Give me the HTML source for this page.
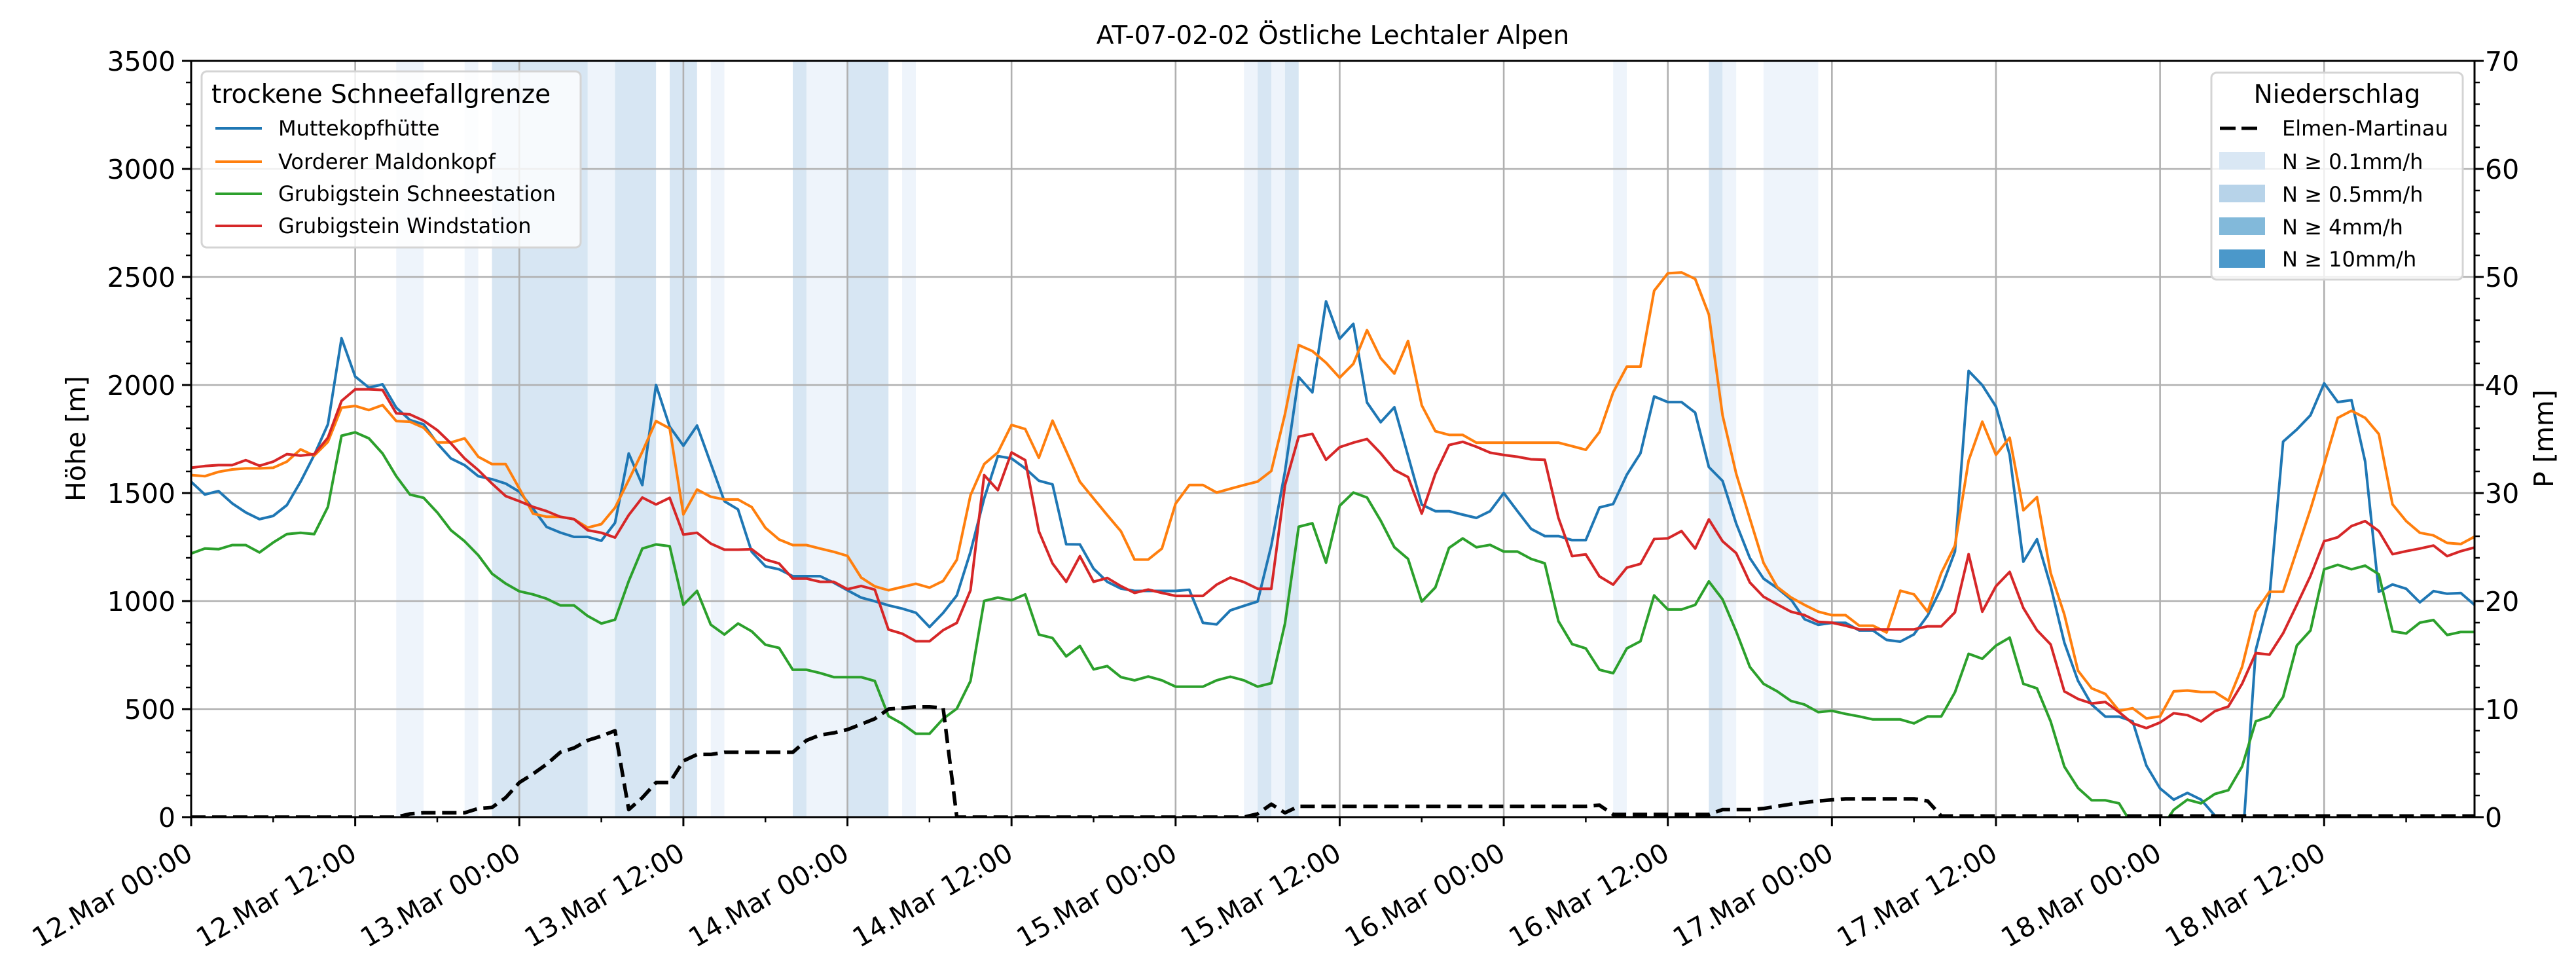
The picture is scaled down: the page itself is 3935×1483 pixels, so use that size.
<!DOCTYPE html>
<html><head><meta charset="utf-8"><style>
html,body{margin:0;padding:0;background:#fff;}
svg{display:block;font-family:"DejaVu Sans","Liberation Sans",sans-serif;}
</style></head><body>
<svg id="chart" xmlns="http://www.w3.org/2000/svg" width="3935" height="1483" viewBox="0 0 3935 1483">
<defs><clipPath id="plotclip"><rect x="292" y="93" width="3488" height="1155"/></clipPath></defs>
<rect x="0" y="0" width="3935" height="1483" fill="#fff"/>
<g id="bands" clip-path="url(#plotclip)"></g>
<g id="grid"></g>
<g id="series" clip-path="url(#plotclip)"></g>
<g id="axes"></g>
<text x="2036" y="67" text-anchor="middle" font-size="39">AT-07-02-02 Östliche Lechtaler Alpen</text>
<text transform="translate(130,670) rotate(-90)" text-anchor="middle" font-size="41">Höhe [m]</text>
<text transform="translate(3900,670) rotate(-90)" text-anchor="middle" font-size="41">P [mm]</text>
<g id="legend1">
<rect x="308" y="109" width="579" height="269" rx="8" fill="#fff" fill-opacity="0.8" stroke="#d4d4d4" stroke-width="3"/>
<text x="323" y="157" font-size="39">trockene Schneefallgrenze</text>
<line x1="329" y1="196" x2="400" y2="196" stroke="#1f77b4" stroke-width="4"/>
<text x="425" y="207" font-size="32">Muttekopfhütte</text>
<line x1="329" y1="247" x2="400" y2="247" stroke="#ff7f0e" stroke-width="4"/>
<text x="425" y="258" font-size="32">Vorderer Maldonkopf</text>
<line x1="329" y1="296" x2="400" y2="296" stroke="#2ca02c" stroke-width="4"/>
<text x="425" y="307" font-size="32">Grubigstein Schneestation</text>
<line x1="329" y1="345" x2="400" y2="345" stroke="#d62728" stroke-width="4"/>
<text x="425" y="356" font-size="32">Grubigstein Windstation</text>
</g>
<g id="legend2">
<rect x="3378" y="111" width="384" height="316" rx="8" fill="#fff" fill-opacity="0.8" stroke="#d4d4d4" stroke-width="3"/>
<text x="3570" y="157" text-anchor="middle" font-size="39">Niederschlag</text>
<line x1="3391" y1="196" x2="3449" y2="196" stroke="#000" stroke-width="5" stroke-dasharray="24,9"/>
<text x="3486" y="207" font-size="32">Elmen-Martinau</text>
<rect x="3390" y="232" width="70" height="27" fill="#d9e7f4"/>
<text x="3486" y="258" font-size="32">N ≥ 0.1mm/h</text>
<rect x="3390" y="282" width="70" height="27" fill="#b7d3e9"/>
<text x="3486" y="308" font-size="32">N ≥ 0.5mm/h</text>
<rect x="3390" y="332" width="70" height="27" fill="#82b9da"/>
<text x="3486" y="358" font-size="32">N ≥ 4mm/h</text>
<rect x="3390" y="381" width="70" height="28" fill="#4b98ca"/>
<text x="3486" y="407" font-size="32">N ≥ 10mm/h</text>
</g>
</svg>
<script>
const tickLabels = ["12.Mar 00:00","12.Mar 12:00","13.Mar 00:00","13.Mar 12:00","14.Mar 00:00","14.Mar 12:00","15.Mar 00:00","15.Mar 12:00","16.Mar 00:00","16.Mar 12:00","17.Mar 00:00","17.Mar 12:00","18.Mar 00:00","18.Mar 12:00"];
const yTicks = [0,500,1000,1500,2000,2500,3000,3500];
const y2Ticks = [0,10,20,30,40,50,60,70];
const muttekopf = [1552,1493,1509,1452,1410,1379,1394,1444,1552,1676,1818,2216,2039,1988,2003,1895,1838,1818,1730,1660,1629,1578,1564,1544,1506,1428,1343,1317,1297,1297,1279,1362,1683,1537,2000,1807,1719,1812,1637,1462,1424,1228,1161,1147,1115,1115,1115,1085,1050,1016,999,980,965,946,880,945,1026,1228,1475,1671,1660,1614,1557,1540,1263,1262,1150,1089,1058,1047,1047,1047,1047,1052,899,892,957,978,998,1257,1600,2037,1966,2387,2214,2283,1919,1828,1897,1672,1446,1416,1416,1400,1385,1416,1500,1416,1334,1301,1301,1282,1282,1433,1449,1585,1684,1947,1921,1921,1872,1620,1556,1359,1199,1104,1060,1008,916,890,899,899,864,864,820,812,846,933,1060,1229,2065,1999,1900,1677,1182,1286,1069,808,631,521,465,465,443,239,133,81,112,81,8,-150,-150,773,1017,1738,1794,1860,2008,1921,1930,1646,1043,1077,1057,994,1046,1034,1037,982];
const maldonkopf = [1583,1578,1598,1609,1614,1614,1617,1645,1702,1673,1737,1895,1903,1884,1907,1833,1830,1802,1734,1734,1753,1668,1634,1634,1521,1405,1390,1390,1379,1340,1356,1432,1560,1691,1833,1799,1401,1516,1483,1470,1470,1435,1339,1285,1259,1259,1243,1228,1209,1109,1068,1050,1065,1080,1062,1093,1191,1490,1634,1688,1815,1796,1663,1835,1694,1552,1475,1398,1323,1192,1192,1243,1451,1537,1537,1502,1520,1537,1553,1602,1865,2185,2157,2103,2034,2098,2254,2124,2053,2204,1906,1786,1769,1769,1733,1733,1733,1733,1733,1733,1733,1717,1700,1782,1966,2085,2085,2436,2517,2521,2491,2326,1860,1590,1382,1177,1065,1017,982,951,935,935,886,886,855,1048,1031,951,1130,1257,1651,1830,1677,1756,1420,1481,1130,938,678,596,570,492,504,457,466,582,586,579,579,539,695,951,1043,1043,1234,1425,1634,1848,1881,1848,1773,1448,1370,1316,1304,1269,1264,1298];
const schneestation = [1220,1243,1240,1259,1259,1225,1271,1310,1316,1310,1436,1765,1781,1753,1683,1578,1493,1478,1410,1328,1277,1212,1127,1081,1045,1031,1011,980,980,931,896,914,1092,1243,1262,1254,983,1047,891,845,896,860,798,783,682,682,667,648,648,648,630,468,432,386,386,455,502,630,1001,1016,1004,1031,845,829,744,792,684,699,648,633,651,633,604,604,604,633,650,633,604,620,896,1344,1360,1178,1441,1502,1479,1372,1249,1195,998,1063,1246,1290,1249,1260,1229,1229,1195,1175,907,801,781,682,666,781,814,1026,961,961,982,1091,1008,860,695,617,582,538,521,486,492,478,466,452,452,452,434,466,466,578,756,733,794,831,617,596,443,234,135,78,78,64,-40,-80,-60,34,81,64,107,125,234,443,466,556,794,864,1147,1168,1147,1164,1124,860,850,900,912,843,857,857];
const windstation = [1617,1625,1629,1629,1652,1626,1645,1680,1673,1680,1756,1926,1980,1980,1977,1869,1864,1835,1791,1730,1660,1606,1544,1486,1462,1436,1416,1390,1379,1328,1316,1294,1398,1479,1447,1478,1308,1316,1266,1238,1238,1240,1192,1174,1104,1104,1089,1089,1055,1070,1053,868,849,814,814,865,899,1050,1583,1513,1688,1652,1323,1174,1089,1208,1089,1107,1069,1038,1053,1038,1024,1024,1024,1076,1109,1088,1057,1057,1536,1761,1774,1654,1712,1733,1750,1684,1607,1574,1405,1589,1722,1737,1714,1687,1676,1668,1656,1654,1385,1208,1216,1114,1076,1155,1172,1287,1290,1324,1243,1378,1277,1222,1086,1020,985,951,935,904,900,886,869,869,869,869,869,883,883,948,1217,951,1069,1135,968,865,799,582,547,526,533,486,434,412,438,481,472,443,490,512,617,759,752,851,982,1116,1277,1295,1347,1370,1324,1217,1231,1243,1257,1208,1231,1248];
const precip = [0,0,0,0,0,0,0,0,0,0,0,0,0,0,0,0,0.3,0.4,0.4,0.4,0.4,0.8,0.9,1.8,3.2,4.0,4.9,6.0,6.4,7.1,7.5,8.0,0.7,1.8,3.2,3.2,5.2,5.8,5.8,6.0,6.0,6.0,6.0,6.0,6.0,7.1,7.6,7.8,8.1,8.6,9.1,10.0,10.1,10.2,10.2,10.1,0,0,0,0,0,0,0,0,0,0,0,0,0,0,0,0,0,0,0,0,0,0,0.3,1.2,0.4,1.0,1.0,1.0,1.0,1.0,1.0,1.0,1.0,1.0,1.0,1.0,1.0,1.0,1.0,1.0,1.0,1.0,1.0,1.0,1.0,1.0,1.0,1.1,0.25,0.25,0.25,0.25,0.25,0.25,0.25,0.25,0.7,0.7,0.7,0.8,1.0,1.2,1.35,1.5,1.6,1.7,1.7,1.7,1.7,1.7,1.7,1.5,0.1,0.1,0.1,0.1,0.1,0.1,0.1,0.1,0.1,0.1,0.1,0.1,0.1,0.1,0.1,0.1,0.1,0.1,0.1,0.1,0.1,0.1,0.1,0.1,0.1,0.1,0.1,0.1,0.1,0.1,0.1,0.1,0.1,0.1,0.1,0.1,0.1,0.1,0.1,0.1];
const bandStart = [15,20,29,38,45,52,77,79,104,112,115,22,31,35,44,48,78,80,111];
const bandEnd   = [17,21,31,39,48,53,78,80,105,113,119,29,34,37,45,51,79,81,112];
const bandLevel = [0.1,0.1,0.1,0.1,0.1,0.1,0.1,0.1,0.1,0.1,0.1,0.5,0.5,0.5,0.5,0.5,0.5,0.5,0.5];

const NS='http://www.w3.org/2000/svg';
const L=292,R=3780,T=93,B=1248;
const H0=0,H1=167;
function xs(h){return L+(h-H0)*(R-L)/(H1-H0);}
function ys(v){return B-v*(B-T)/3500;}
function ys2(p){return B-p*(B-T)/70;}
function mk(tag,attrs,parent){const e=document.createElementNS(NS,tag);for(const k in attrs)e.setAttribute(k,attrs[k]);parent.appendChild(e);return e;}

const bands=document.getElementById('bands');
for(let i=0;i<bandStart.length;i++){
  const r=mk('rect',{x:xs(bandStart[i]),y:T,width:xs(bandEnd[i])-xs(bandStart[i]),height:B-T,fill:bandLevel[i]>=0.5?'#d7e6f3':'#eef4fb'},bands);
  
  
}
const grid=document.getElementById('grid');
const axes=document.getElementById('axes');
for(let i=0;i<tickLabels.length;i++){
  const h=i*12, x=xs(h);
  const g=mk('line',{x1:x,y1:T,x2:x,y2:B,stroke:'#b0b0b0','stroke-width':2.6},grid);
  
  
  mk('line',{x1:x,y1:B,x2:x,y2:B+14,stroke:'#000','stroke-width':3},axes);
  const t=mk('text',{x:x+5,y:1311,'text-anchor':'end','font-size':41,transform:`rotate(-30 ${x+5} 1311)`},axes);
  t.textContent=tickLabels[i];
  
  
}
for(let h=6;h<=H1;h+=12){const x=xs(h);mk('line',{x1:x,y1:B,x2:x,y2:B+8,stroke:'#000','stroke-width':2.5},axes);}
for(const v of yTicks){
  const y=ys(v);
  const g=mk('line',{x1:L,y1:y,x2:R,y2:y,stroke:'#b0b0b0','stroke-width':2.6},grid);
  
  
  mk('line',{x1:L-14,y1:y,x2:L,y2:y,stroke:'#000','stroke-width':3},axes);
  const t=mk('text',{x:L-24,y:y+15,'text-anchor':'end','font-size':41},axes);
  t.textContent=v;
  
  
}
for(let v=100;v<3500;v+=100){if(v%500)mk('line',{x1:L-8,y1:ys(v),x2:L,y2:ys(v),stroke:'#000','stroke-width':2.5},axes);}
for(const p of y2Ticks){
  const y=ys2(p);
  mk('line',{x1:R,y1:y,x2:R+14,y2:y,stroke:'#000','stroke-width':3},axes);
  const t=mk('text',{x:3796,y:y+15,'font-size':41},axes);
  t.textContent=p;
  
  
}
for(let p=2;p<70;p+=2){if(p%10)mk('line',{x1:R,y1:ys2(p),x2:R+8,y2:ys2(p),stroke:'#000','stroke-width':2.5},axes);}
const frame=mk('rect',{x:L,y:T,width:R-L,height:B-T,fill:'none',stroke:'#000','stroke-width':3},axes);



const ser=document.getElementById('series');
function line(vals,color,name,scale,dash){
  const d=vals.map((v,i)=>(i?'L':'M')+xs(i).toFixed(1)+' '+scale(v).toFixed(1)).join(' ');
  const p=mk('path',{d:d,fill:'none',stroke:color,'stroke-width':dash?5.5:4,'stroke-linejoin':'round'},ser);
  if(dash)p.setAttribute('stroke-dasharray','22,10');
  
  
}
line(muttekopf,'#1f77b4','muttekopf-line',ys);
line(maldonkopf,'#ff7f0e','maldonkopf-line',ys);
line(schneestation,'#2ca02c','schneestation-line',ys);
line(windstation,'#d62728','windstation-line',ys);
line(precip,'#000','precip-elmen-line',ys2,true);
</script>
</body></html>
